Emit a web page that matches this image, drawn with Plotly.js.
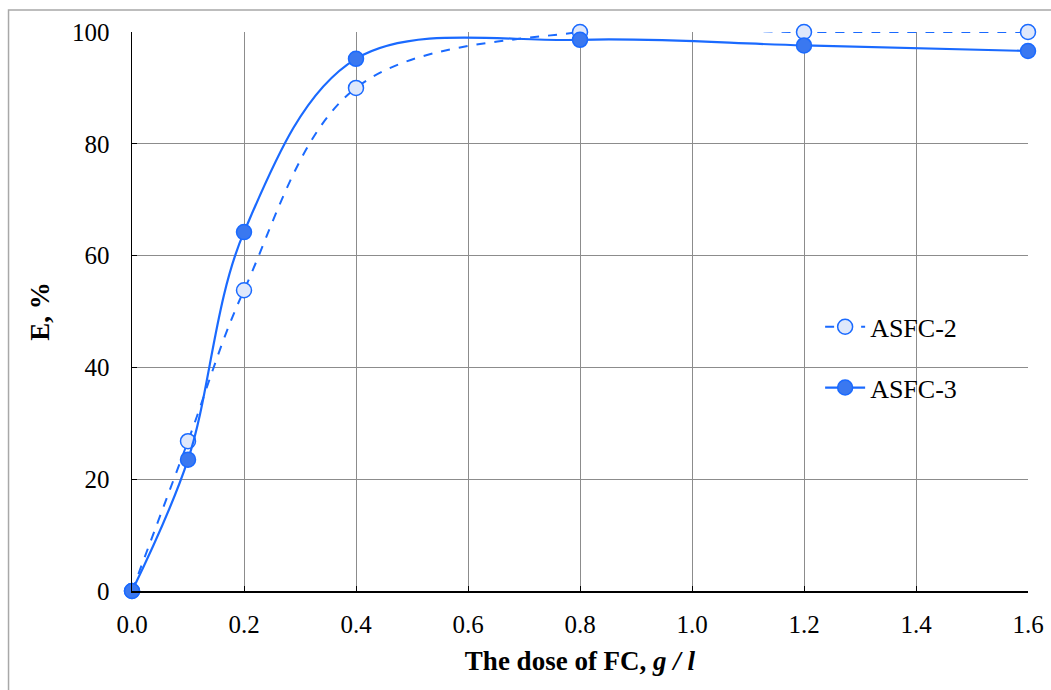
<!DOCTYPE html>
<html><head><meta charset="utf-8">
<script src="https://cdn.plot.ly/plotly-3.0.1.min.js"></script>
<style>body{margin:0;background:#fff}#chart{width:1051px;height:690px}</style>
</head><body><div id="chart"></div>
<script>
const dose = [0, 0.1, 0.2, 0.4, 0.8, 1.2, 1.6];
const asfc2 = [0, 26.8, 53.8, 90.0, 100, 100, 100];
const asfc3 = [0, 23.5, 64.2, 95.2, 98.6, 97.6, 96.6];
const xTicks = [0, 0.2, 0.4, 0.6, 0.8, 1.0, 1.2, 1.4, 1.6];
const yTicks = [0, 20, 40, 60, 80, 100];

const blue = '#1a6aff';
const fam = '"Liberation Serif", "Times New Roman", serif';
const tickFont = {family: fam, color: '#000', size: 25};
const titleFont = {family: fam, color: '#000', size: 27};
const legFont = {family: fam, color: '#000', size: 26};

const traces = [
  {x: dose, y: asfc2, name: 'ASFC-2', legendgroup: 'a', type: 'scatter', mode: 'lines+markers', cliponaxis: false,
   line: {color: blue, width: 2, dash: 'dash', shape: 'spline', smoothing: 1},
   marker: {size: 15, color: '#dfe8fb', line: {color: blue, width: 1.5}}},
  {x: dose, y: asfc3, name: 'ASFC-3', legendgroup: 'b', type: 'scatter', mode: 'lines+markers', cliponaxis: false,
   line: {color: blue, width: 2.2, shape: 'spline', smoothing: 1},
   marker: {size: 15, color: '#3a78f0', line: {color: blue, width: 1.5}}}
];

const layout = {
  width: 1051, height: 690,
  margin: {l: 132, r: 23, t: 32, b: 99},
  paper_bgcolor: '#fff', plot_bgcolor: '#fff',
  font: tickFont,
  showlegend: true,
  legend: {x: 0.768, y: 0.418, xanchor: 'left', yanchor: 'middle', bgcolor: 'rgba(0,0,0,0)',
           borderwidth: 0, font: legFont, tracegroupgap: 24, itemwidth: 40,
           traceorder: 'grouped'},
  xaxis: {range: [0, 1.6], tickvals: xTicks, ticktext: xTicks.map(v => v.toFixed(1)),
          showgrid: true, gridcolor: '#8c8c8c', gridwidth: 1,
          showline: true, linecolor: '#000', linewidth: 1.5, zeroline: false,
          ticks: 'inside', ticklen: 5, tickcolor: '#000', ticklabelstandoff: 10,
          tickfont: tickFont,
          title: {text: '<b>The dose of FC, <i>g / l</i></b>', font: titleFont, standoff: 14}},
  yaxis: {range: [0, 100], tickvals: yTicks,
          showgrid: true, gridcolor: '#8c8c8c', gridwidth: 1,
          showline: true, linecolor: '#000', linewidth: 1.5, zeroline: false,
          ticks: 'inside', ticklen: 5, tickcolor: '#000', ticklabelstandoff: 16,
          tickfont: tickFont,
          title: {text: '<b>E, %</b>', font: titleFont, standoff: 14}},
  shapes: [
    {type: 'rect', xref: 'paper', yref: 'paper', x0: -0.1378, x1: 1.06, y0: -0.25, y1: 1.0394,
     line: {color: '#a8a8a8', width: 1.5}, layer: 'below'},
    {type: 'rect', xref: 'paper', yref: 'paper', x0: 0.742, x1: 0.969, y0: 0.29, y1: 0.52,
     fillcolor: '#fff', line: {width: 0}, layer: 'between'}
  ]
};
Plotly.newPlot('chart', traces, layout, {displayModeBar: false, staticPlot: true});
</script></body></html>
